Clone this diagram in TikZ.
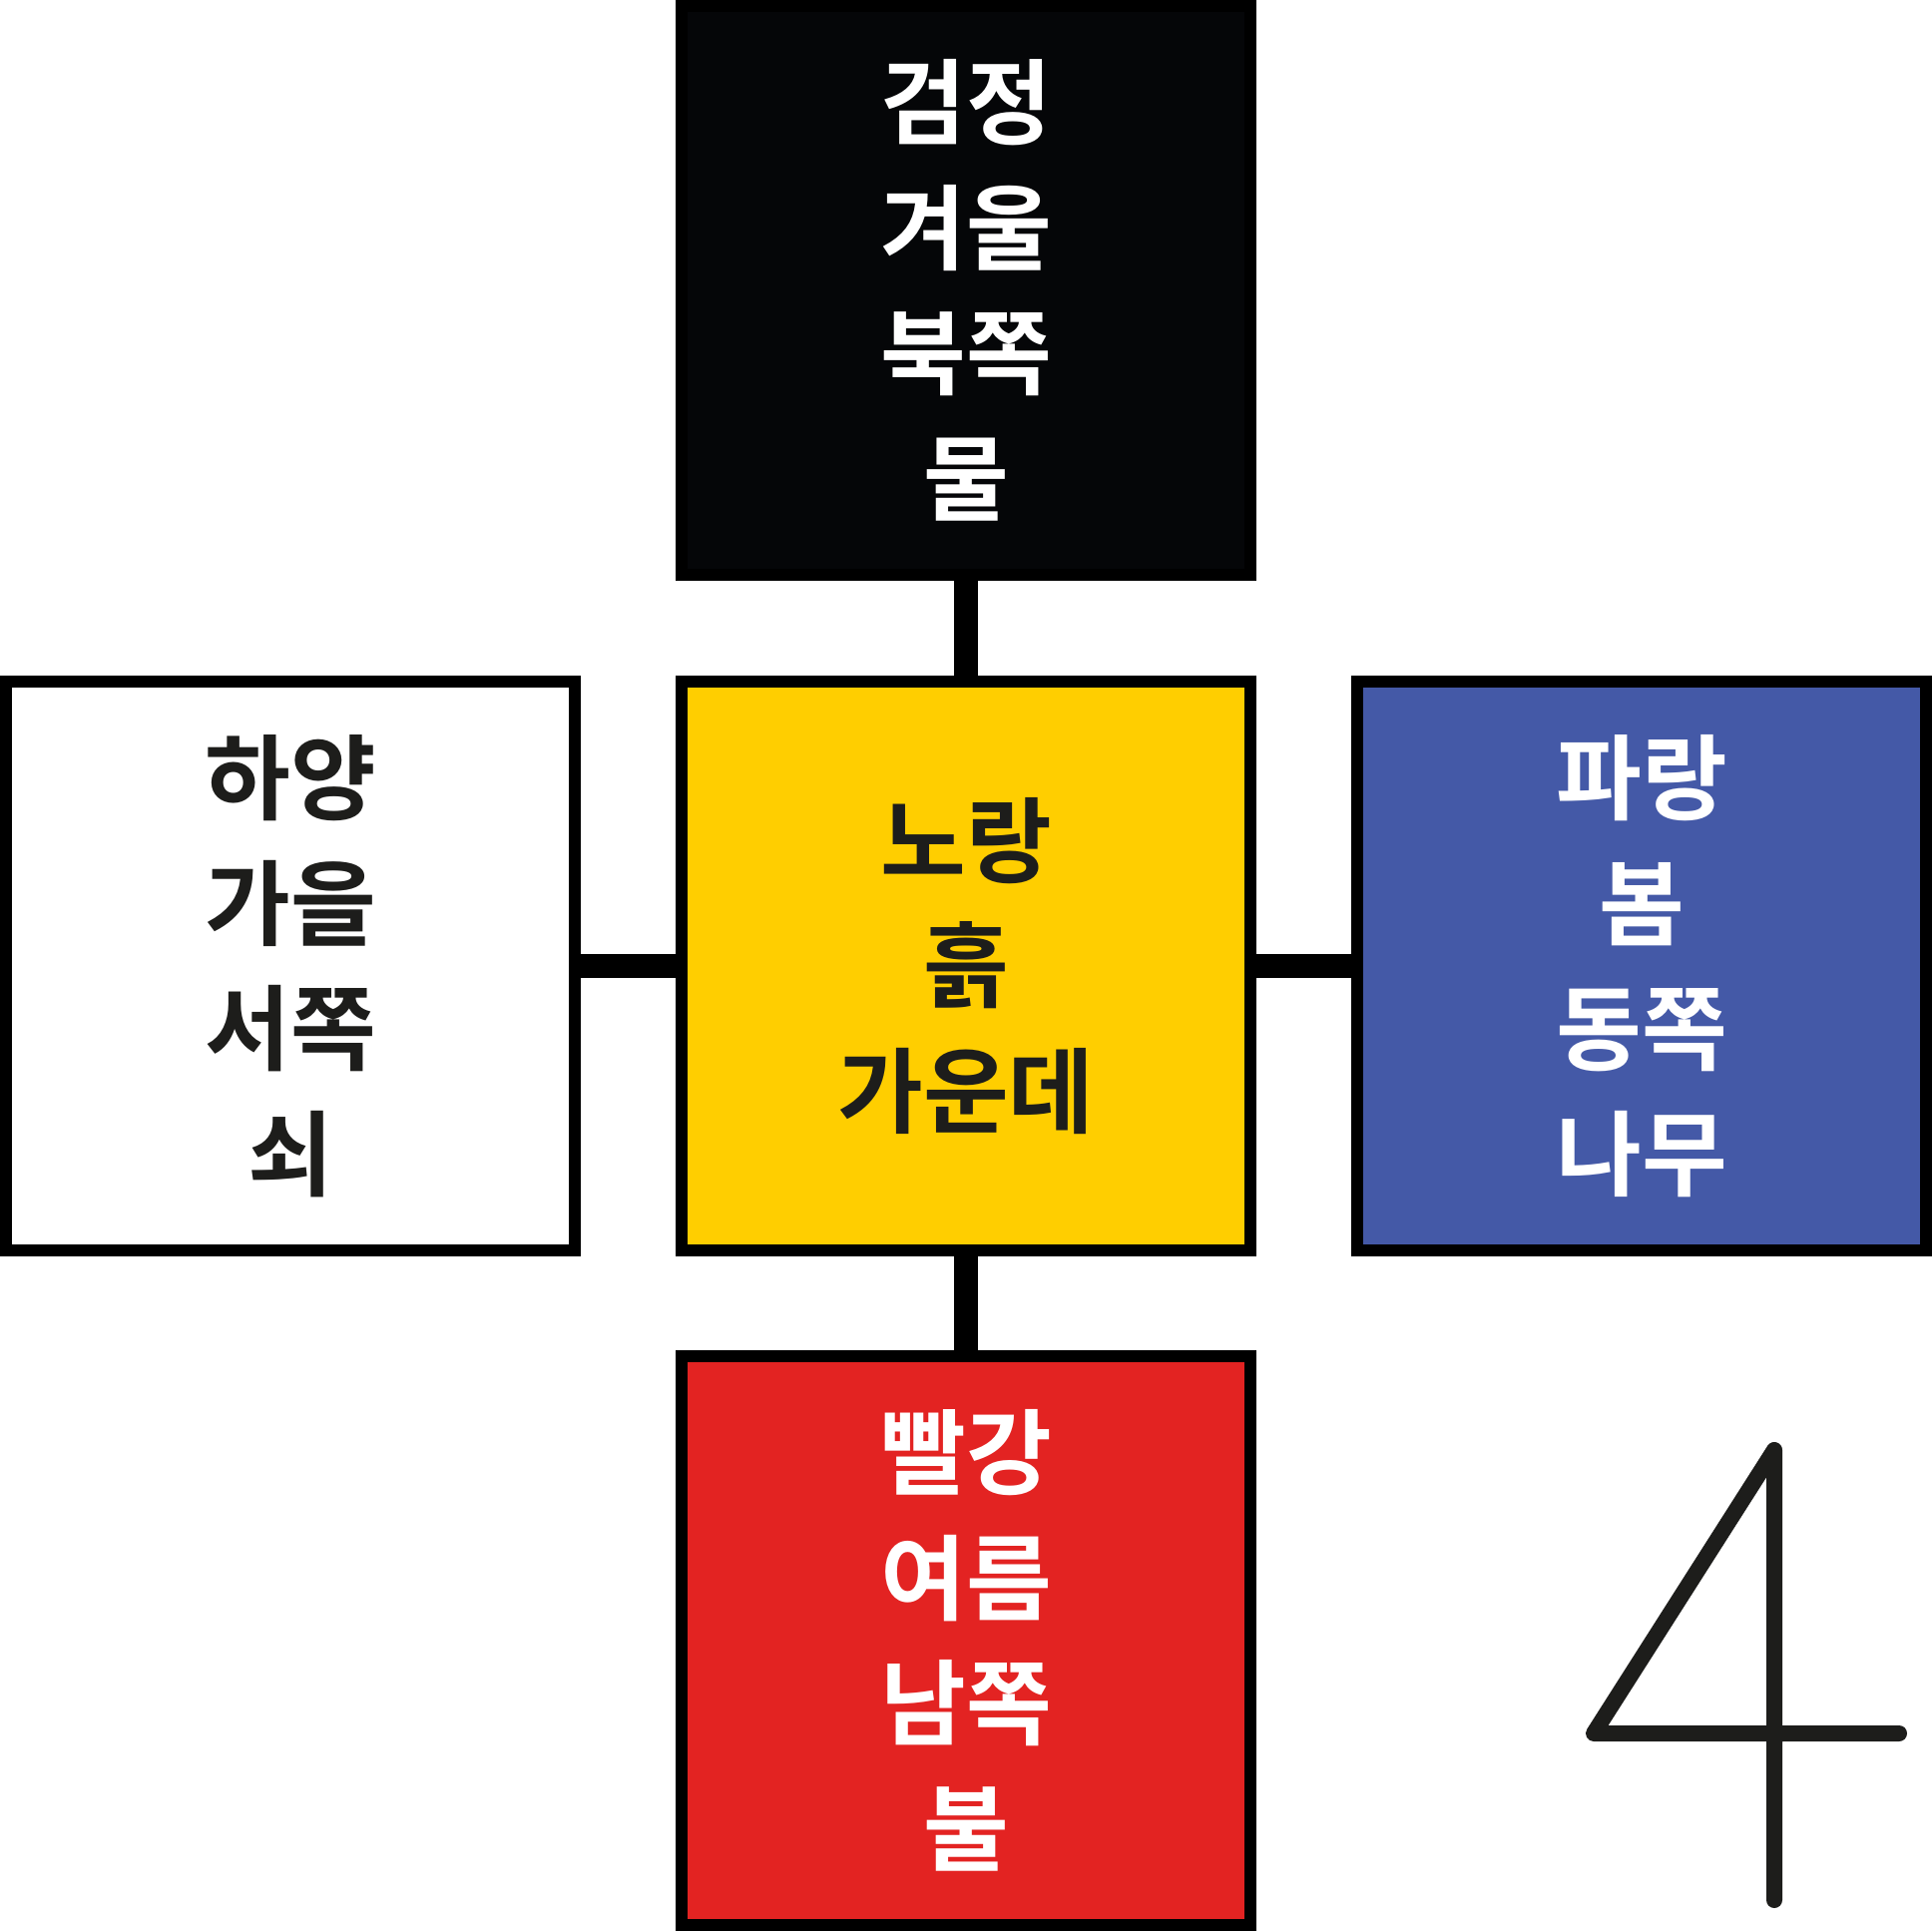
\documentclass[tikz,border=0pt]{standalone}
\usepackage{fontspec}
\newfontfamily\kr{Noto Sans CJK KR}[UprightFont={* Bold}]
\usepackage{tikz}
\definecolor{north-black}{RGB}{5,6,8}
\definecolor{center-yellow}{RGB}{255,206,0}
\definecolor{east-blue}{RGB}{68,89,167}
\definecolor{south-red}{RGB}{227,35,34}
\definecolor{ink}{RGB}{29,29,27}
\tikzset{
  season/.style={draw=black, line width=0.12cm, minimum size=5.70cm,
    inner sep=0pt, outer sep=0pt, align=center,
    font=\kr\fontsize{26.5}{35.7}\selectfont},
  link/.style={line width=0.24cm, black},
}

\begin{document}
\begin{tikzpicture}[x=0.01cm, y=-0.01cm]
    \useasboundingbox (0,0) rectangle (1936,1936);

    \coordinate (N) at (968,291);
    \coordinate (W) at (291,968);
    \coordinate (C) at (968,968);
    \coordinate (E) at (1645,968);
    \coordinate (S) at (968,1644);

    \node[season, fill=center-yellow, text=ink] (middle) at (C) {노랑\\흙\\가운데};
    \node[season, fill=north-black, text=white] (north) at (N) {검정\\겨울\\북쪽\\물};
    \node[season, fill=white, text=ink] (west) at (W) {하양\\가을\\서쪽\\쇠};
    \node[season, fill=east-blue, text=white] (east) at (E) {파랑\\봄\\동쪽\\나무};
    \node[season, fill=south-red, text=white] (south) at (S) {빨강\\여름\\남쪽\\불};

    \draw[link] (north.south) -- (middle.north);
    \draw[link] (west.east) -- (middle.west);
    \draw[link] (middle.east) -- (east.west);
    \draw[link] (middle.south) -- (south.north);

    % number four, bottom right
    \coordinate (top) at (1778,1453);
    \coordinate (foot) at (1778,1904);
    \coordinate (left) at (1597,1737);
    \coordinate (right) at (1903,1737);
    \draw[ink, line width=0.16cm, line cap=round, line join=round]
        (foot) -- (top) -- (left) -- (right);
\end{tikzpicture}
\end{document}
